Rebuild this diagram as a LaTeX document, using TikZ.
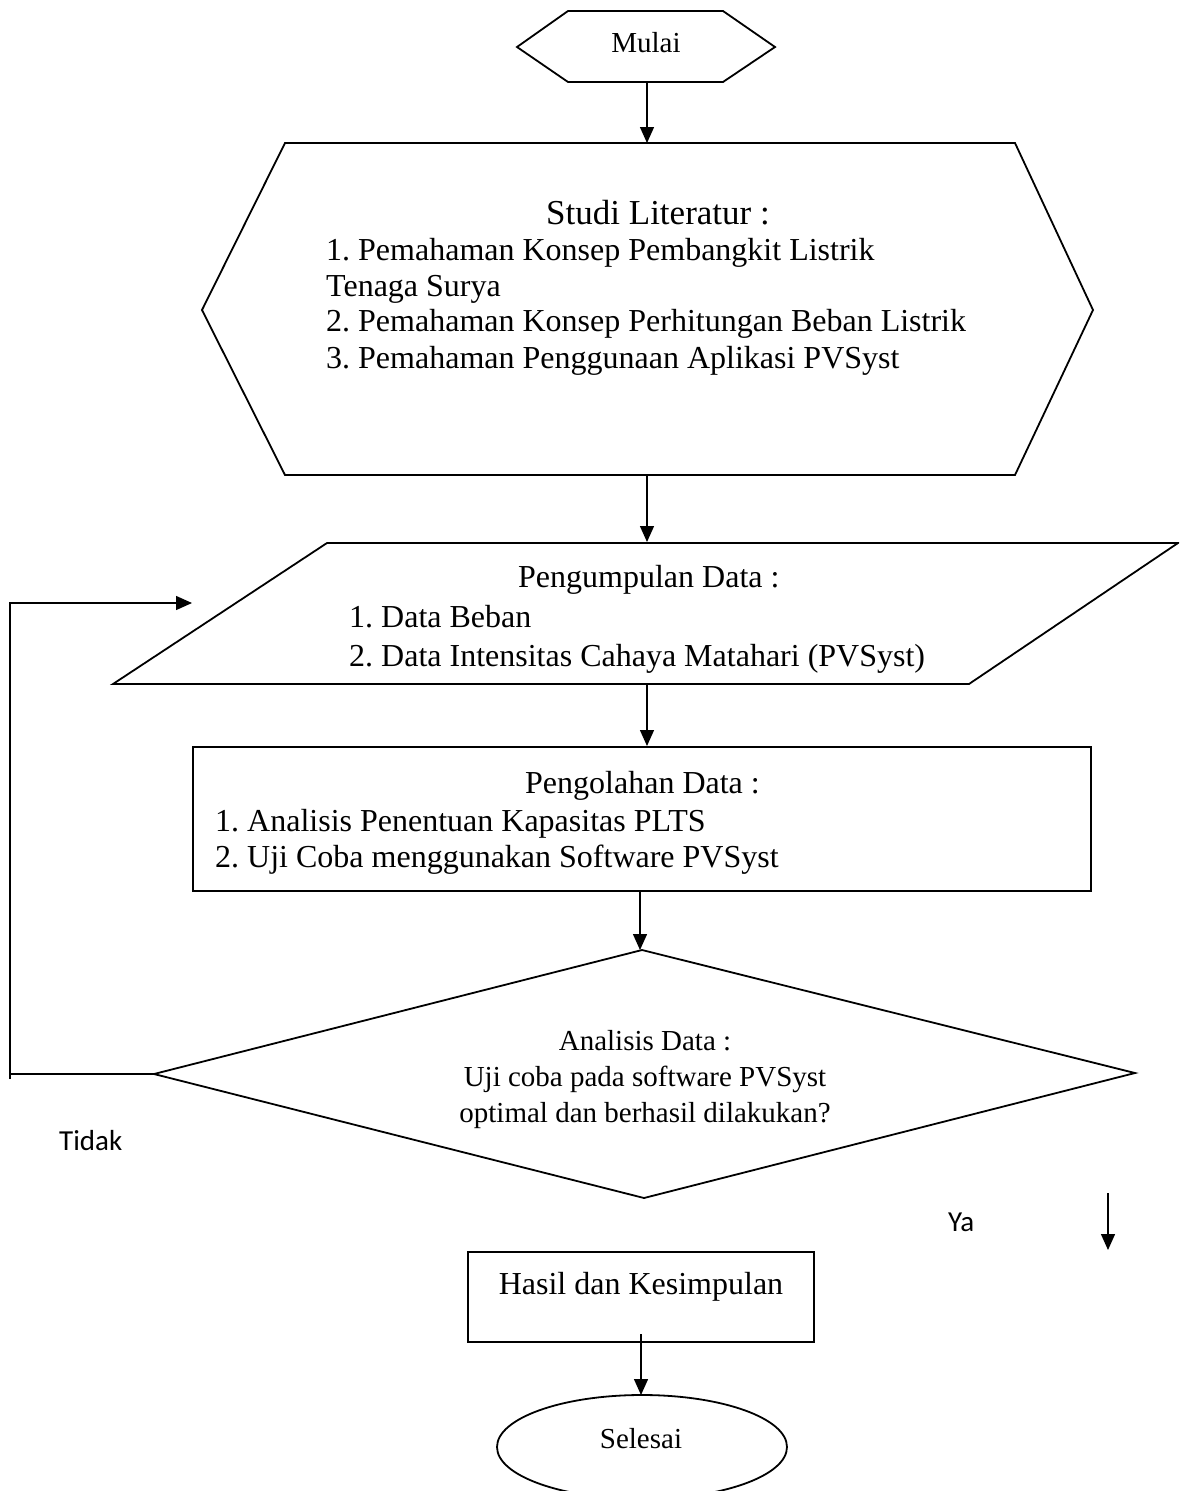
\documentclass[tikz,border=0pt]{standalone}
\usepackage{fontspec}
\setmainfont{Liberation Serif}
\newfontfamily\labelfont{Carlito}
\usetikzlibrary{arrows.meta}
\frenchspacing
\begin{document}
\begin{tikzpicture}[x=1pt,y=-1pt,
  shapeline/.style={draw=black,line width=1.8pt,line join=miter},
  flow/.style={draw=black,line width=1.4pt,-{Triangle[length=16pt,width=14pt]}},
  plainline/.style={draw=black,line width=1.4pt},
  txt/.style={inner sep=0pt,font=\fontsize{29}{35}\selectfont},
  boxtxt/.style={inner sep=0pt,font=\fontsize{32}{38}\selectfont},
  lbl/.style={inner sep=0pt,font=\labelfont\fontsize{29}{34}\selectfont}]
\useasboundingbox (0,0) rectangle (1179,1491);
\clip (0,0) rectangle (1179,1491);

% start terminal (hexagon)
\draw[shapeline] (517,47) -- (568,11) -- (723,11) -- (775,47) -- (723,82) -- (568,82) -- cycle;
\node[txt,anchor=base] (mulai) at (646,52) {Mulai};

% literature study (large hexagon)
\draw[shapeline] (202,310) -- (285,143) -- (1015,143) -- (1093,310) -- (1015,475) -- (285,475) -- cycle;
\node[inner sep=0pt,font=\fontsize{35}{40}\selectfont,anchor=base west] (studiH) at (546,224) {Studi Literatur :};
\node[boxtxt,anchor=base west] (studi1) at (326,260) {1. Pemahaman Konsep Pembangkit Listrik};
\node[boxtxt,anchor=base west] (studi1b) at (326,296) {Tenaga Surya};
\node[boxtxt,anchor=base west] (studi2) at (326,331) {2. Pemahaman Konsep Perhitungan Beban Listrik};
\node[boxtxt,anchor=base west] (studi3) at (326,368) {3. Pemahaman Penggunaan Aplikasi PVSyst};

% data collection (parallelogram)
\draw[shapeline] (327,543) -- (1178,543) -- (969,684) -- (113,684) -- cycle;
\node[boxtxt,anchor=base west] (kumpulH) at (518,587) {Pengumpulan Data :};
\node[boxtxt,anchor=base west] (kumpul1) at (349,627) {1. Data Beban};
\node[boxtxt,anchor=base west] (kumpul2) at (349,666) {2. Data Intensitas Cahaya Matahari (PVSyst)};

% data processing (rectangle)
\draw[shapeline] (193,747) rectangle (1091,891);
\node[boxtxt,anchor=base west] (olahH) at (525,793) {Pengolahan Data :};
\node[boxtxt,anchor=base west] (olah1) at (215,831) {1. Analisis Penentuan Kapasitas PLTS};
\node[boxtxt,anchor=base west] (olah2) at (215,867) {2. Uji Coba menggunakan Software PVSyst};

% decision (diamond)
\draw[shapeline] (642,950) -- (1135,1073) -- (644,1198) -- (154,1074) -- cycle;
\node[txt,anchor=base] (anaH) at (645,1050) {Analisis Data :};
\node[txt,anchor=base] (ana1) at (645,1086) {Uji coba pada software PVSyst};
\node[txt,anchor=base] (ana2) at (645,1122) {optimal dan berhasil dilakukan?};

% result (rectangle)
\draw[shapeline] (468,1252) rectangle (814,1342);
\node[boxtxt,anchor=base] (hasil) at (641,1294) {Hasil dan Kesimpulan};

% end terminal (ellipse)
\draw[shapeline] (642,1447) ellipse [x radius=145, y radius=52];
\node[txt,anchor=base] (selesai) at (641,1448) {Selesai};

% branch labels
\node[lbl,anchor=base west] (tidak) at (59,1150) {Tidak};
\node[lbl,anchor=base west] (ya) at (948,1231) {Ya};

% connector end points
\coordinate (mulaiS) at (647,82);
\coordinate (studiN) at (647,143);
\coordinate (studiS) at (647,475);
\coordinate (kumpulN) at (647,542);
\coordinate (kumpulS) at (647,684);
\coordinate (olahN) at (647,746);
\coordinate (olahS) at (640,891);
\coordinate (anaN) at (640,950);
\coordinate (anaW) at (154,1074);
\coordinate (loopCorner) at (10,1074);
\coordinate (loopBottom) at (10,1079);
\coordinate (loopEnd) at (192,603);
\coordinate (yaTop) at (1108,1193);
\coordinate (yaEnd) at (1108,1250);
\coordinate (hasilS) at (641,1334);
\coordinate (selesaiN) at (641,1395);

% connectors
\draw[flow] (mulaiS) -- (studiN);
\draw[flow] (studiS) -- (kumpulN);
\draw[flow] (kumpulS) -- (olahN);
\draw[flow] (olahS) -- (anaN);
\draw[plainline] (anaW) -- (loopCorner);
\draw[flow] (loopBottom) |- (loopEnd);
\draw[flow] (yaTop) -- (yaEnd);
\draw[flow] (hasilS) -- (selesaiN);
\end{tikzpicture}
\end{document}
